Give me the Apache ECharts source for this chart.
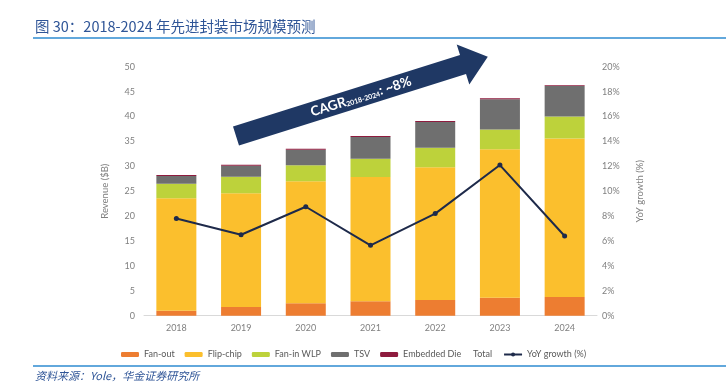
<!DOCTYPE html>
<html><head><meta charset="utf-8">
<script src="https://cdn.jsdelivr.net/npm/echarts@6/dist/echarts.min.js"></script>
<style>html,body{margin:0;padding:0;background:#fff}#c{width:726px;height:387px}</style>
</head><body><div id="c"></div>
<script>
const years = ['2018','2019','2020','2021','2022','2023','2024'];
const fanOut = [1.0, 1.75, 2.5, 2.9, 3.15, 3.6, 3.75];
const flipChip = [22.6, 22.85, 24.5, 24.95, 26.65, 29.8, 31.85];
const fanInWLP = [2.9, 3.3, 3.2, 3.65, 3.9, 4.0, 4.4];
const tsv = [1.55, 2.2, 3.1, 4.4, 5.2, 6.05, 6.1];
const embeddedDie = [0.2, 0.2, 0.2, 0.2, 0.2, 0.2, 0.2];
const total = [28.25, 30.3, 33.5, 36.1, 39.1, 43.65, 46.3];
const yoy = [7.8, 6.5, 8.75, 5.65, 8.2, 12.1, 6.4];

const colors = {fo:'#ED7D31', fc:'#FBBF2D', fi:'#BDD23B', tsv:'#6F6F6F', ed:'#8E1B3E', line:'#1E2A4A'};
const chart = echarts.init(document.getElementById('c'));
const axisText = {color:'#808080', fontSize:9, fontFamily:'Lato'};
const barBase = (name, data, color) => ({
  name, type:'bar', stack:'rev', data, barWidth:40,
  itemStyle:{color}, emphasis:{disabled:true}, yAxisIndex:0
});
chart.setOption({
  animation:false,
  grid:{left:144, right:129, top:66.7, bottom:71.3},
  xAxis:{type:'category', data:years,
    axisLine:{lineStyle:{color:'#D9D9D9'}}, axisTick:{show:false},
    axisLabel:Object.assign({margin:8}, axisText)},
  yAxis:[
    {type:'value', min:0, max:50, interval:5, name:'Revenue ($B)', nameLocation:'middle', nameGap:34,
     nameTextStyle:{color:'#808080', fontSize:9.5, fontFamily:'Lato'},
     splitLine:{show:false}, axisLine:{show:false}, axisTick:{show:false},
     axisLabel:Object.assign({margin:9}, axisText)},
    {type:'value', min:0, max:20, interval:2, name:'YoY growth (%)', nameLocation:'middle', nameGap:38,
     nameTextStyle:{color:'#808080', fontSize:9.5, fontFamily:'Lato'},
     splitLine:{show:false}, axisLine:{show:false}, axisTick:{show:false},
     axisLabel:Object.assign({margin:5, formatter:'{value}%'}, axisText)}
  ],
  legend:[
    {left:121, top:350, padding:0, itemWidth:18, itemHeight:5, itemGap:10,
     textStyle:{color:'#595959', fontSize:9, fontFamily:'Lato'},
     data:['Fan-out','Flip-chip','Fan-in WLP','TSV','Embedded Die']},
    {left:450, top:350, padding:0, itemWidth:18, itemHeight:5, itemGap:11,
     textStyle:{color:'#595959', fontSize:9, fontFamily:'Lato'},
     data:[{name:'Total', icon:'none'}, {name:'YoY growth (%)'}]}
  ],
  series:[
    barBase('Fan-out', fanOut, colors.fo),
    barBase('Flip-chip', flipChip, colors.fc),
    barBase('Fan-in WLP', fanInWLP, colors.fi),
    barBase('TSV', tsv, colors.tsv),
    barBase('Embedded Die', embeddedDie, colors.ed),
    {name:'Total', type:'line', data:total, showSymbol:false, lineStyle:{opacity:0}, itemStyle:{color:'transparent'}, silent:true, yAxisIndex:0},
    {name:'YoY growth (%)', type:'line', yAxisIndex:1, data:yoy, symbol:'circle', symbolSize:5,
     lineStyle:{color:colors.line, width:2}, itemStyle:{color:colors.line}}
  ],
  graphic:[
    {type:'text', left:35, top:19, style:{text:'图 30：2018-2024 年先进封装市场规模预测', fill:'#2F5597', font:'14.5px "Noto Sans CJK SC"'}},
    {type:'line', shape:{x1:33, y1:38, x2:726, y2:38}, style:{stroke:'#2E8BD0', lineWidth:1.5}},
    {type:'line', shape:{x1:33, y1:366, x2:726, y2:366}, style:{stroke:'#2E8BD0', lineWidth:1.5}},
    {type:'text', left:35, top:370, style:{text:'资料来源：Yole，华金证券研究所', fill:'#2F5597', font:'italic 11px "Noto Sans CJK SC"'}},
    {type:'group', x:236, y:136, rotation:0.305, z:100, children:[
      {type:'polygon', shape:{points:[[0,-10],[238,-10],[238,-21],[264,0],[238,21],[238,10],[0,10]]}, style:{fill:'#1F3864'}},
      {type:'text', x:131, y:0, style:{
        text:'{a|CAGR}{b|2018-2024}{a|: ~8%}', align:'center', verticalAlign:'middle',
        rich:{a:{fill:'#fff', fontSize:13.5, fontWeight:'bold', fontFamily:'Lato'},
              b:{fill:'#fff', fontSize:7, fontWeight:'bold', fontFamily:'Lato', padding:[6,0,0,0]}}}}
    ]}
  ]
});
</script></body></html>
